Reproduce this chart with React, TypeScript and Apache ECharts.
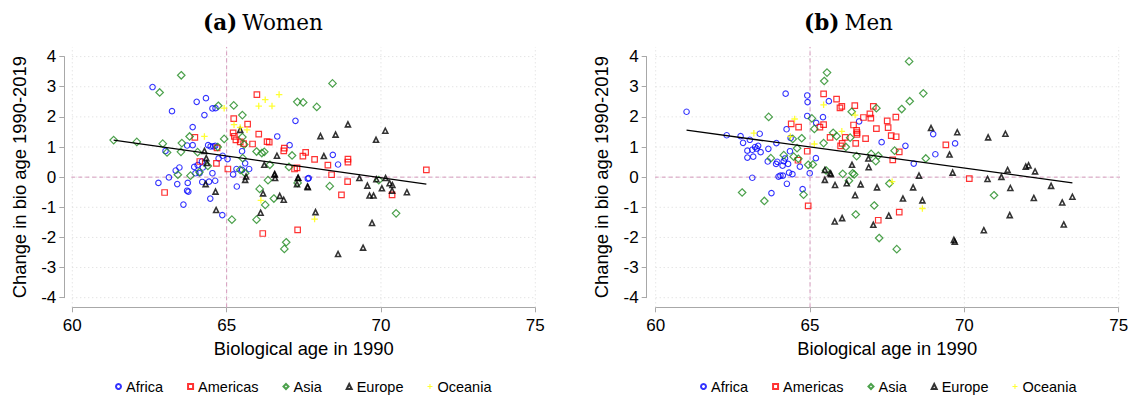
import React, { useEffect, useRef } from 'react';
import * as echarts from 'echarts';

type P = [number, number];

const REGIONS = ['Africa', 'Americas', 'Asia', 'Europe', 'Oceania'];
const X_TICKS = [60, 65, 70, 75];
const Y_TICKS = [-4, -3, -2, -1, 0, 1, 2, 3, 4];
const PANEL_TITLES = ['(a)', '(b)'];
const PANEL_NAMES = ['Women', 'Men'];
const X_NAME = 'Biological age in 1990';
const Y_NAME = 'Change in bio age 1990-2019';

// ---------- Women ----------
const womenAfrica: P[] = [
  [62.6, 2.99], [64.03, 2.5], [64.33, 2.62], [63.23, 2.19], [64.28, 2.06], [64.54, 2.28], [64.64, 2.29],
  [63.9, 1.66], [67.23, 1.87], [66.64, 1.35], [67.04, 1.06], [63.02, 0.87], [63.72, 1.05], [63.9, 1.06],
  [64.4, 1.06], [64.48, 1.02], [64.57, 1.02], [64.63, 1.04], [65.5, 0.86], [64.87, 0.71], [64.74, 0.62],
  [65.03, 0.6], [64.2, 0.52], [63.35, 0.22], [63.47, 0.32], [63.95, 0.34], [64.06, 0.4], [64.23, 0.32],
  [65.32, 0.27], [65.6, 0.46], [65.73, 0.27], [65.5, 0.24], [63.99, 0.13], [64.12, 0.13], [64.54, 0.13],
  [63.13, -0.01], [65.21, 0.09], [62.79, -0.19], [63.4, -0.23], [63.74, -0.19], [63.72, -0.45],
  [63.76, -0.48], [63.6, -0.91], [64.21, -0.16], [64.43, -0.15], [64.63, -0.12], [64.47, -0.71],
  [64.86, -1.26], [65.33, -0.31], [67.66, -0.03], [68.44, 0.74], [68.61, 0.42], [67.63, -0.05],
];
const womenAmericas: P[] = [
  [65.98, 2.74], [65.23, 1.94], [65.68, 1.76], [65.21, 1.47], [65.25, 1.35], [65.3, 1.24], [65.44, 1.17],
  [65.55, 1.11], [66.04, 1.43], [65.84, 1.1], [66.31, 1.18], [66.38, 1.16], [66.87, 0.96], [66.85, 0.87],
  [67.56, 0.82], [67.47, 0.7], [67.2, 0.27], [67.28, 0.31], [63.97, 1.32], [64.69, 0.97], [64.13, 0.52],
  [64.67, 0.46], [65.04, 0.27], [62.99, -0.51], [66.17, -1.87], [67.3, -1.75], [67.85, 0.59], [68.28, 0.4],
  [68.93, 0.6], [68.93, 0.5], [71.47, 0.24], [68.4, 0.08], [68.92, -0.15], [70.36, -0.59], [68.72, -0.59],
];
const womenAsia: P[] = [
  [63.53, 3.38], [62.83, 2.81], [64.73, 2.37], [65.23, 2.38], [65.51, 2.06], [67.29, 2.5], [67.48, 2.48],
  [65.51, 1.33], [65.57, 1.08], [65.97, 0.85], [66.14, 0.8], [66.22, 0.84], [67.12, 0.72], [66.4, 0.41],
  [67.02, 0.34], [61.34, 1.23], [62.09, 1.17], [62.93, 1.11], [63.07, 0.82], [63.52, 0.84], [63.55, 1.13],
  [63.8, 1.35], [64.06, 0.83], [64.92, 1.27], [64.71, 1.0], [64.39, 0.37], [65.44, 0.24], [65.52, 0.63],
  [65.6, 0.13], [63.42, 0.08], [63.83, 0.05], [64.12, 0.17], [65.17, -1.41], [66.07, -0.39],
  [66.25, -0.92], [65.97, -1.41], [66.34, -0.1], [66.53, -0.71], [66.93, -2.16], [66.87, -2.38],
  [67.3, -0.19], [68.43, 3.11], [67.92, 2.33], [69.93, -0.1], [68.34, -0.3], [70.49, -1.2],
];
const womenEurope: P[] = [
  [65.44, 1.57], [66.63, 0.71], [66.22, 0.41], [66.55, 0.09], [67.32, -0.02], [64.28, 0.87], [64.34, 0.63],
  [64.36, 0.47], [65.63, 0.02], [64.32, -0.23], [64.64, -0.48], [64.66, -1.09], [65.6, -0.09],
  [66.18, -0.54], [66.1, -1.18], [66.56, 0.1], [66.57, -0.03], [66.72, -0.62], [66.85, -0.75],
  [67.31, -0.03], [67.28, -0.23], [67.62, -0.31], [68.93, 1.75], [68.04, 1.36], [68.53, 1.41],
  [69.84, 1.24], [70.14, 1.54], [68.15, 0.7], [69.3, -0.03], [69.56, -0.28], [69.85, -0.07],
  [70.15, -0.03], [70.28, -0.2], [70.37, -0.26], [70.03, -0.37], [70.36, -0.45], [70.84, -0.5],
  [69.63, -0.61], [69.76, -0.61], [67.63, -0.33], [67.88, -1.16], [69.71, -1.52], [69.42, -2.34],
  [68.61, -2.55],
];
const womenOceania: P[] = [
  [64.92, 2.29], [66.25, 2.57], [66.7, 2.74], [66.04, 2.36], [66.47, 2.36], [65.24, 1.74], [65.66, 1.57],
  [65.44, 1.65], [64.28, 1.35], [66.11, -0.77], [67.85, -1.39],
];
const womenFit: P[] = [[61.34, 1.23], [71.47, -0.23]];

// ---------- Men ----------
const menAfrica: P[] = [
  [61.0, 2.17], [62.3, 1.39], [62.75, 1.36], [62.83, 1.14], [63.05, 1.24], [62.97, 0.88], [62.97, 0.65],
  [63.13, 0.91], [63.22, 1.0], [63.27, 0.95], [63.32, 1.04], [63.16, 0.68], [63.4, 0.83], [63.65, 0.94],
  [63.37, 1.44], [63.63, 0.52], [63.9, 0.44], [63.94, 0.51], [64.11, 0.38], [64.15, 0.53], [64.19, 0.62],
  [64.29, 0.44], [63.91, 1.13], [64.21, 2.77], [64.24, 1.59], [64.37, 1.3], [64.35, 0.86], [64.67, 0.35],
  [64.32, 0.15], [64.43, 0.1], [64.04, 0.05], [64.12, 0.05], [63.13, -0.02], [64.91, 2.71], [64.92, 2.49],
  [64.91, 2.03], [65.2, 1.8], [65.42, 1.99], [65.61, 2.52], [66.59, 1.85], [65.19, 0.63], [67.32, 1.16],
  [64.99, 0.13], [63.98, 0.02], [64.25, -0.22], [64.76, -0.4], [63.75, -0.53], [68.09, 1.04],
  [68.36, 0.45], [68.99, 1.43], [69.7, 1.12], [69.06, 0.76],
];
const menAmericas: P[] = [
  [64.39, 1.77], [64.63, 1.66], [64.61, 0.56], [65.44, 1.74], [65.32, 1.66], [65.44, 2.76], [65.86, 2.59],
  [65.97, 2.3], [66.03, 2.35], [66.45, 2.37], [66.73, 1.98], [66.94, 2.1], [66.97, 1.96], [67.05, 2.35],
  [66.41, 1.73], [66.51, 1.55], [66.52, 1.48], [66.52, 1.42], [67.15, 1.61], [67.5, 1.87], [67.53, 1.64],
  [66.14, 1.32], [65.99, 1.04], [66.04, 1.12], [65.65, 1.32], [66.48, 1.12], [66.8, 1.28], [64.91, 0.86],
  [64.94, -0.95], [67.21, -1.43], [67.78, 1.99], [67.63, 1.38], [67.79, 1.34], [67.89, 0.84],
  [67.68, 0.57], [69.4, 1.07], [70.16, -0.05], [67.89, -1.16],
];
const menAsia: P[] = [
  [63.66, 2.0], [63.73, 0.63], [64.15, 0.73], [64.47, 0.68], [64.44, 1.27], [64.73, 1.29], [64.58, 0.96],
  [65.06, 1.95], [65.14, 1.6], [65.55, 3.47], [65.46, 3.19], [66.35, 2.17], [67.15, 2.29], [65.75, 1.47],
  [65.86, 1.36], [66.3, 1.31], [66.16, 1.0], [65.44, 1.13], [66.51, 0.7], [66.98, 0.77], [67.21, 0.71],
  [67.13, 0.53], [64.94, 0.41], [65.09, 0.42], [65.52, 0.22], [66.06, 0.11], [66.38, 0.13], [66.43, 0.09],
  [64.62, 0.61], [62.8, -0.51], [63.52, -0.79], [64.79, -0.58], [66.26, -0.12], [67.57, -0.21],
  [67.08, -0.94], [66.48, -1.24], [67.24, -2.02], [68.21, 3.84], [68.67, 2.78], [68.23, 2.52],
  [67.97, 2.26], [67.74, 0.88], [68.75, 0.62], [67.81, -2.39], [70.96, -0.6],
];
const menEurope: P[] = [
  [66.89, 0.62], [66.9, 0.33], [66.36, 0.41], [65.48, 0.24], [65.65, 0.13], [65.68, 0.1], [65.48, -0.09],
  [65.81, -0.26], [66.19, -0.2], [66.64, -0.24], [66.46, -0.6], [67.17, -0.34], [65.8, -1.47],
  [66.04, -1.36], [67.05, -1.58], [68.92, 1.63], [69.77, 1.49], [69.52, 0.75], [70.77, 1.32],
  [71.33, 1.44], [71.4, 0.24], [71.99, 0.35], [72.08, 0.39], [72.29, 0.19], [68.53, 0.05], [69.62, 0.15],
  [70.75, -0.06], [71.2, 0.01], [68.34, -0.34], [68.01, -0.71], [68.64, -0.77], [67.55, -1.28],
  [69.66, -2.08], [69.69, -2.14], [70.63, -1.76], [71.49, -0.36], [71.47, -1.26], [72.25, -0.69],
  [72.81, -0.29], [73.17, -0.84], [73.5, -0.65], [73.22, -1.57],
];
const menOceania: P[] = [
  [64.5, 1.93], [64.36, 1.35], [65.44, 2.4], [66.46, 2.06], [67.66, -0.15], [68.64, -1.04], [63.18, 1.46],
  [65.14, 1.1], [66.03, 1.52],
];
const menFit: P[] = [[61.0, 1.56], [73.5, -0.19]];

const REF_X = 65;
const REF_Y = 0;

const FONT = '"Liberation Sans", Arial, Helvetica, sans-serif';
const SERIF = '"DejaVu Serif", "Liberation Serif", serif';

const STYLE: Record<string, { symbol: string; size: number; color: string; filled: boolean; bw: number }> = {
  Africa: { symbol: 'circle', size: 5.5, color: '#0000ff', filled: false, bw: 1.1 },
  Americas: { symbol: 'rect', size: 5.5, color: '#ff0000', filled: false, bw: 1.2 },
  Asia: { symbol: 'diamond', size: 7.5, color: '#1f8a1f', filled: false, bw: 1.2 },
  Europe: { symbol: 'triangle', size: 5, color: '#000000', filled: false, bw: 1.6 },
  Oceania: {
    symbol: 'path://M2.4,0H3.6V2.4H6V3.6H3.6V6H2.4V3.6H0V2.4H2.4Z',
    size: 6.5,
    color: '#ffff00',
    filled: true,
    bw: 0,
  },
};

// extent of the plot region beyond the axis ranges (in data units)
const X_EXT_L = 0.26;
const X_EXT_R = 0.32;
const Y_EXT = 0.32;

function App() {
  const ref = useRef<HTMLDivElement>(null);

  useEffect(() => {
    document.body.style.margin = '0';
    if (!ref.current) return;
    const chart = echarts.init(ref.current, undefined, { renderer: 'svg' });

    const panels = [
      { data: [womenAfrica, womenAmericas, womenAsia, womenEurope, womenOceania], fit: womenFit },
      { data: [menAfrica, menAmericas, menAsia, menEurope, menOceania], fit: menFit },
    ];
    const gridLeft = [72.3, 655.7];
    const yOffset = [8, 9];

    const xMin = X_TICKS[0];
    const xMax = X_TICKS[X_TICKS.length - 1];
    const yMin = Y_TICKS[0];
    const yMax = Y_TICKS[Y_TICKS.length - 1];

    const series: any[] = [];
    panels.forEach((p, i) => {
      Y_TICKS.forEach((y) => {
        series.push({
          type: 'line', xAxisIndex: i, yAxisIndex: i, silent: true, clip: false, symbol: 'none', z: 1,
          data: [[xMin - X_EXT_L, y], [xMax + X_EXT_R, y]],
          lineStyle: { color: '#d9d9d9', width: 1, type: [1, 3] },
        });
      });
      X_TICKS.forEach((x) => {
        series.push({
          type: 'line', xAxisIndex: i, yAxisIndex: i, silent: true, clip: false, symbol: 'none', z: 1,
          data: [[x, yMin - Y_EXT], [x, yMax + Y_EXT]],
          lineStyle: { color: '#d9d9d9', width: 1, type: [1, 3] },
        });
      });
      series.push({
        type: 'line', xAxisIndex: i, yAxisIndex: i, silent: true, clip: false, symbol: 'none', z: 2,
        data: [[REF_X, yMin - Y_EXT], [REF_X, yMax + Y_EXT]],
        lineStyle: { color: '#d69bbd', width: 1, type: [4, 3] },
      });
      series.push({
        type: 'line', xAxisIndex: i, yAxisIndex: i, silent: true, clip: false, symbol: 'none', z: 2,
        data: [[xMin - X_EXT_L, REF_Y], [xMax + X_EXT_R, REF_Y]],
        lineStyle: { color: '#d69bbd', width: 1, type: [4, 3] },
      });
      REGIONS.forEach((r, k) => {
        const s = STYLE[r];
        series.push({
          type: 'scatter', name: r, xAxisIndex: i, yAxisIndex: i, z: 3,
          data: p.data[k],
          symbol: s.symbol,
          symbolSize: s.size,
          itemStyle: s.filled
            ? { color: s.color, borderWidth: 0 }
            : { color: 'rgba(255,255,255,0)', borderColor: s.color, borderWidth: s.bw },
        });
      });
      series.push({
        type: 'line', xAxisIndex: i, yAxisIndex: i, silent: true, symbol: 'none', z: 4,
        data: p.fit,
        lineStyle: { color: '#000', width: 1.3 },
      });
    });

    const axisColor = '#a8a8a8';
    const option: any = {
      animation: false,
      backgroundColor: '#fff',
      title: [0, 1].map((i) => ({
        text: `{b|${PANEL_TITLES[i]}} {r|${PANEL_NAMES[i]}}`,
        left: i === 0 ? 198 : 799,
        top: 6,
        textStyle: {
          rich: {
            b: { fontFamily: SERIF, fontWeight: 'bold', fontSize: 21.5, color: '#000' },
            r: { fontFamily: SERIF, fontWeight: 'normal', fontSize: 21.5, color: '#000' },
          },
        },
      })),
      legend: [0, 1].map((i) => ({
        data: REGIONS,
        left: i === 0 ? 110 : 695,
        top: 374,
        itemWidth: 5,
        itemHeight: 5,
        itemGap: 24,
        selectedMode: false,
        textStyle: { fontSize: 14.5, fontFamily: FONT, color: '#000' },
      })),
      grid: [0, 1].map((i) => ({
        left: gridLeft[i],
        top: 56.6,
        width: 463,
        height: 241.1,
        containLabel: false,
      })),
      xAxis: [0, 1].map((i) => ({
        gridIndex: i,
        type: 'value',
        min: xMin,
        max: xMax,
        interval: 5,
        offset: 9.6,
        axisLine: { show: true, onZero: false, lineStyle: { color: axisColor, width: 1 } },
        axisTick: { show: true, length: 5, lineStyle: { color: axisColor } },
        axisLabel: { fontSize: 17, fontFamily: FONT, color: '#000', margin: 10 },
        splitLine: { show: false },
        name: X_NAME,
        nameLocation: 'middle',
        nameGap: 25,
        nameTextStyle: { fontSize: 18.4, fontFamily: FONT, color: '#000' },
      })),
      yAxis: [0, 1].map((i) => ({
        gridIndex: i,
        type: 'value',
        min: yMin,
        max: yMax,
        interval: 1,
        offset: yOffset[i],
        axisLine: { show: true, onZero: false, lineStyle: { color: axisColor, width: 1 } },
        axisTick: { show: true, length: 5, lineStyle: { color: axisColor } },
        axisLabel: { fontSize: 17, fontFamily: FONT, color: '#000', margin: 8 },
        splitLine: { show: false },
        name: Y_NAME,
        nameLocation: 'middle',
        nameGap: 36,
        nameTextStyle: { fontSize: 18.4, fontFamily: FONT, color: '#000' },
      })),
      series,
    };

    chart.setOption(option);
    return () => chart.dispose();
  }, []);

  return <div ref={ref} style={{ width: 1132, height: 395 }} />;
}

export default App;
